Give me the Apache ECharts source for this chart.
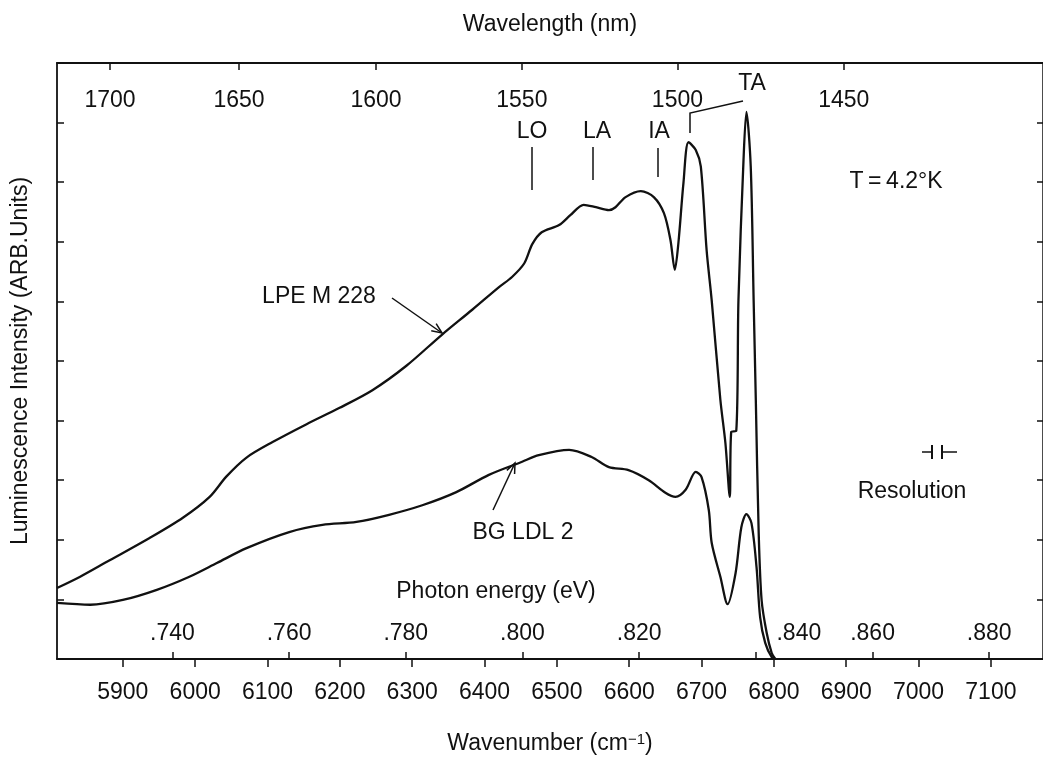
<!DOCTYPE html>
<html>
<head>
<meta charset="utf-8">
<script src="https://cdn.jsdelivr.net/npm/echarts@6/dist/echarts.min.js"></script>
<style>
  html, body { margin: 0; padding: 0; background: #fff; }
  #chart { width: 1043px; height: 760px; }
</style>
</head>
<body>
<div id="chart"></div>
<script>
// axis ticks
var wavenumberTicks = [5900, 6000, 6100, 6200, 6300, 6400, 6500, 6600, 6700, 6800, 6900, 7000, 7100];
var wavelengthTicks = [1700, 1650, 1600, 1550, 1500, 1450];
var energyTicks = [0.740, 0.760, 0.780, 0.800, 0.820, 0.840, 0.860, 0.880];

// LPE M 228 spectrum (wavenumber cm-1, arb. units)
var lpeWavenumber = [5809, 5841, 5878, 5937, 5983, 6020, 6043, 6071, 6107, 6154, 6199, 6245, 6292, 6341, 6383,
  6420, 6438, 6455, 6466, 6479, 6503, 6519, 6537, 6554, 6572, 6581, 6595, 6616, 6634, 6648, 6657, 6663, 6668,
  6675, 6682, 6692, 6699, 6707, 6714, 6726, 6733, 6739, 6741, 6748, 6751, 6758, 6762, 6768, 6772, 6775, 6779,
  6783, 6790, 6797, 6802];
var lpeIntensity = [1.19, 1.38, 1.63, 2.03, 2.37, 2.72, 3.06, 3.38, 3.64, 3.94, 4.21, 4.51, 4.92, 5.44, 5.86,
  6.24, 6.41, 6.64, 6.96, 7.16, 7.28, 7.45, 7.62, 7.58, 7.53, 7.58, 7.75, 7.85, 7.75, 7.48, 7.03, 6.53, 6.98,
  7.99, 8.67, 8.54, 8.26, 6.86, 6.02, 4.35, 3.62, 2.72, 3.81, 3.83, 6.02, 8.37, 9.18, 8.26, 6.02, 4.35, 2.11,
  0.99, 0.44, 0.10, 0];

// BG LDL 2 spectrum
var bgWavenumber = [5809, 5855, 5900, 5947, 5992, 6030, 6071, 6130, 6176, 6223, 6268, 6314, 6361, 6406, 6452,
  6475, 6517, 6548, 6572, 6599, 6627, 6650, 6664, 6678, 6692, 6700, 6710, 6714, 6726, 6736, 6747, 6755, 6762,
  6769, 6776, 6781, 6788, 6797, 6802];
var bgIntensity = [0.94, 0.91, 0.99, 1.16, 1.38, 1.61, 1.86, 2.13, 2.25, 2.30, 2.42, 2.58, 2.80, 3.09, 3.31,
  3.42, 3.51, 3.39, 3.22, 3.17, 3.00, 2.79, 2.72, 2.84, 3.14, 3.05, 2.50, 1.95, 1.38, 0.92, 1.44, 2.21, 2.43,
  2.28, 1.54, 0.70, 0.27, 0.03, 0];

var EV_PER_WN = 1.23984e-4;
var FONT = '"Liberation Sans", Arial, sans-serif';
var INK = '#111';
var FS = 23;

function zip(xs, ys) {
  var out = [];
  for (var i = 0; i < xs.length; i++) out.push([xs[i], ys[i]]);
  return out;
}

var energyPos = energyTicks.map(function (e) { return e / EV_PER_WN; });
var wavelengthPos = wavelengthTicks.map(function (l) { return 1e7 / l; });

var txt = { color: INK, fontFamily: FONT, fontSize: FS };

function arrow(x1, y1, x2, y2) {
  var a = Math.atan2(y2 - y1, x2 - x1), len = 11, sp = 0.4;
  return [
    { type: 'polyline', shape: { points: [[x1, y1], [x2, y2]] }, style: { stroke: INK, lineWidth: 1.5, fill: null } },
    { type: 'polyline', shape: { points: [
      [x2 - len * Math.cos(a - sp), y2 - len * Math.sin(a - sp)], [x2, y2],
      [x2 - len * Math.cos(a + sp), y2 - len * Math.sin(a + sp)]] },
      style: { stroke: INK, lineWidth: 1.5, fill: null } }
  ];
}

function label(text, x, y) {
  return { type: 'text', x: x, y: y, style: { text: text, font: FS + 'px ' + FONT, fill: INK, align: 'center', verticalAlign: 'middle' } };
}

function line(pts, w) {
  return { type: 'polyline', shape: { points: pts }, style: { stroke: INK, lineWidth: w || 1.5, fill: null } };
}

var graphics = [
  label('LO', 532, 132), label('LA', 597, 132), label('IA', 659, 132), label('TA', 752, 84),
  line([[532, 147], [532, 190]]), line([[593, 147], [593, 180]]), line([[658, 148], [658, 177]]),
  line([[690, 133], [690, 113], [743, 101]]),
  label('T\u2009=\u20094.2°K', 896, 182),
  label('LPE M 228', 319, 297),
  label('BG LDL 2', 523, 533),
  label('Photon energy (eV)', 496, 592),
  label('Resolution', 912, 492),
  line([[922, 452], [932, 452]]), line([[942, 452], [957, 452]]),
  line([[932, 445], [932, 459]], 2), line([[942, 445], [942, 459]], 2)
].concat(arrow(392, 298, 442, 333)).concat(arrow(493, 510, 515, 463));

var chart = echarts.init(document.getElementById('chart'), null, { renderer: 'canvas' });

var option = {
  animation: false,
  backgroundColor: '#fff',
  grid: { left: 57, top: 63, width: 988, height: 596 },
  xAxis: [
    {
      type: 'value', position: 'bottom', min: 5809, max: 7172,
      name: 'Wavenumber (cm{sup|\u22121})', nameLocation: 'middle', nameGap: 73,
      nameTextStyle: { color: INK, fontFamily: FONT, fontSize: FS, rich: { sup: { fontFamily: FONT, fontSize: 15, color: INK, verticalAlign: 'top' } } },
      axisLine: { show: true, lineStyle: { color: INK, width: 1.8 } },
      axisTick: { show: true, inside: false, length: 8, lineStyle: { color: INK, width: 1.5 }, customValues: wavenumberTicks },
      axisLabel: Object.assign({
        margin: 22, customValues: wavenumberTicks,
        formatter: function (v) { return String(Math.round(v)); }
      }, txt),
      splitLine: { show: false }
    },
    {
      type: 'value', position: 'bottom', min: 5809, max: 7172,
      axisLine: { show: false },
      axisTick: { show: true, inside: true, length: 7, lineStyle: { color: INK, width: 1.5 }, customValues: energyPos },
      axisLabel: Object.assign({
        inside: true, margin: 14, customValues: energyPos,
        formatter: function (v) {
          var e = (v * EV_PER_WN).toFixed(3).replace(/^0/, '');
          return e === '.840' ? '{r|' + e + '}' : e;
        },
        rich: { r: { padding: [0, 0, 0, 86], fontSize: FS, fontFamily: FONT, color: INK } }
      }, txt),
      splitLine: { show: false }
    },
    {
      type: 'value', position: 'top', min: 5809, max: 7172,
      name: 'Wavelength (nm)', nameLocation: 'middle', nameGap: 27,
      nameTextStyle: txt,
      axisLine: { show: true, lineStyle: { color: INK, width: 1.8 } },
      axisTick: { show: true, inside: true, length: 7, lineStyle: { color: INK, width: 1.5 }, customValues: wavelengthPos },
      axisLabel: Object.assign({
        inside: true, margin: 26, customValues: wavelengthPos,
        formatter: function (v) { return String(Math.round(1e7 / v)); }
      }, txt),
      splitLine: { show: false }
    }
  ],
  yAxis: [
    {
      type: 'value', position: 'left', min: 0, max: 10, interval: 1,
      name: 'Luminescence Intensity (ARB.Units)', nameLocation: 'middle', nameGap: 25,
      nameTextStyle: txt,
      axisLine: { show: true, lineStyle: { color: INK, width: 1.8 } },
      axisTick: { show: true, inside: true, length: 7, lineStyle: { color: INK, width: 1.5 } },
      axisLabel: { show: false },
      splitLine: { show: false }
    },
    {
      type: 'value', position: 'right', min: 0, max: 10, interval: 1,
      axisLine: { show: true, lineStyle: { color: INK, width: 1.5 } },
      axisTick: { show: true, inside: true, length: 6, lineStyle: { color: INK, width: 1.5 } },
      axisLabel: { show: false },
      splitLine: { show: false }
    }
  ],
  series: [
    {
      name: 'LPE M 228', type: 'line', xAxisIndex: 0, yAxisIndex: 0,
      data: zip(lpeWavenumber, lpeIntensity),
      showSymbol: false, smooth: 0.3,
      lineStyle: { color: INK, width: 2.3 }
    },
    {
      name: 'BG LDL 2', type: 'line', xAxisIndex: 0, yAxisIndex: 0,
      data: zip(bgWavenumber, bgIntensity),
      showSymbol: false, smooth: 0.3,
      lineStyle: { color: INK, width: 2.3 }
    }
  ],
  graphic: graphics
};

chart.setOption(option);
</script>
</body>
</html>
